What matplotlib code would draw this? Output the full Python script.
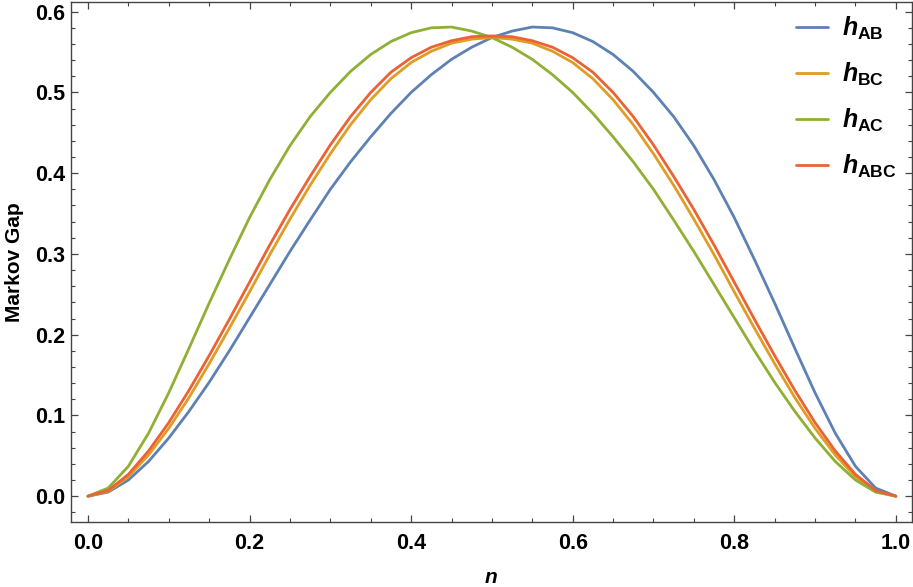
import numpy as np
import matplotlib
matplotlib.use("Agg")
import matplotlib.pyplot as plt
from matplotlib.ticker import MultipleLocator

plt.rcParams['font.family'] = ['Liberation Sans', 'DejaVu Sans']
plt.rcParams['mathtext.fontset'] = 'custom'
plt.rcParams['mathtext.bf'] = 'Liberation Sans:bold'
plt.rcParams['mathtext.it'] = 'Liberation Sans:italic:bold'
plt.rcParams['mathtext.rm'] = 'Liberation Sans:bold'

# значения (шаг 0.025)
n = [i / 40 for i in range(41)]
h_ab = [0.000, 0.005, 0.020, 0.043, 0.072, 0.105, 0.141, 0.180, 0.221, 0.262,
        0.303, 0.342, 0.380, 0.414, 0.445, 0.474, 0.500, 0.522, 0.541, 0.556,
        0.568, 0.576, 0.581, 0.580, 0.574, 0.563, 0.547, 0.526, 0.500, 0.470,
        0.434, 0.392, 0.345, 0.293, 0.239, 0.183, 0.128, 0.078, 0.037, 0.010, 0.000]
h_bc = [0.000, 0.006, 0.024, 0.051, 0.084, 0.122, 0.164, 0.208, 0.253, 0.299,
        0.343, 0.385, 0.424, 0.460, 0.491, 0.517, 0.537, 0.551, 0.561, 0.566,
        0.568, 0.566, 0.561, 0.551, 0.537, 0.517, 0.491, 0.460, 0.424, 0.385,
        0.343, 0.299, 0.253, 0.208, 0.164, 0.122, 0.084, 0.051, 0.024, 0.006, 0.000]
h_ac = [0.000, 0.010, 0.037, 0.078, 0.128, 0.183, 0.239, 0.293, 0.345, 0.392,
        0.434, 0.470, 0.500, 0.526, 0.547, 0.563, 0.574, 0.580, 0.581, 0.576,
        0.568, 0.556, 0.541, 0.522, 0.500, 0.474, 0.445, 0.414, 0.380, 0.342,
        0.303, 0.262, 0.221, 0.180, 0.141, 0.105, 0.072, 0.043, 0.020, 0.005, 0.000]
h_abc = [0.000, 0.007, 0.027, 0.056, 0.091, 0.131, 0.174, 0.219, 0.265, 0.311,
         0.355, 0.396, 0.435, 0.470, 0.500, 0.525, 0.543, 0.556, 0.564, 0.569,
         0.570, 0.569, 0.564, 0.556, 0.543, 0.525, 0.500, 0.470, 0.435, 0.396,
         0.355, 0.311, 0.265, 0.219, 0.174, 0.131, 0.091, 0.056, 0.027, 0.007, 0.000]

series = [
    (h_ab, '#5E81B5', r'$\mathit{h}_{\mathbf{AB}}$'),
    (h_bc, '#E19C24', r'$\mathit{h}_{\mathbf{BC}}$'),
    (h_ac, '#8FB032', r'$\mathit{h}_{\mathbf{AC}}$'),
    (h_abc, '#EB6235', r'$\mathit{h}_{\mathbf{ABC}}$'),
]

fig = plt.figure(figsize=(9.13, 5.87), dpi=100)
ax = fig.add_axes([71 / 913, 1 - 522 / 587, 841 / 913, 520 / 587])

for vals, col, lab in series:
    ax.plot(n, vals, color=col, lw=2.0, label=lab, solid_joinstyle='round',
            solid_capstyle='round')

ax.set_xlim(-0.021, 1.02)
ax.set_ylim(-0.032, 0.612)
ax.xaxis.set_major_locator(MultipleLocator(0.2))
ax.xaxis.set_minor_locator(MultipleLocator(0.05))
ax.yaxis.set_major_locator(MultipleLocator(0.1))
ax.yaxis.set_minor_locator(MultipleLocator(0.02))
ax.xaxis.set_major_formatter(plt.FormatStrFormatter('%.1f'))
ax.yaxis.set_major_formatter(plt.FormatStrFormatter('%.1f'))

ax.tick_params(which='both', direction='in', top=True, right=True, color='#444444')
ax.tick_params(which='major', length=5, width=0.9)
ax.tick_params(which='minor', length=3, width=0.8)
ax.tick_params(axis='x', which='major', pad=8, labelsize=15.5)
ax.tick_params(axis='y', which='major', pad=4, labelsize=15.5)
for lbl in ax.get_xticklabels() + ax.get_yticklabels():
    lbl.set_fontweight('bold')
for sp in ax.spines.values():
    sp.set_color('#444444')
    sp.set_linewidth(1.0)

ax.set_xlabel('n', fontsize=15, fontweight='bold', fontstyle='italic', labelpad=10)
ax.set_ylabel('Markov Gap', fontsize=15, fontweight='bold', labelpad=8)

ax.legend(loc='upper left', bbox_to_anchor=(0.862, 0.975), frameon=False, fontsize=18,
          handlelength=1.3, handletextpad=0.55, labelspacing=0.75,
          borderaxespad=0.0, borderpad=0.0)

fig.savefig('out.png', dpi=100)
